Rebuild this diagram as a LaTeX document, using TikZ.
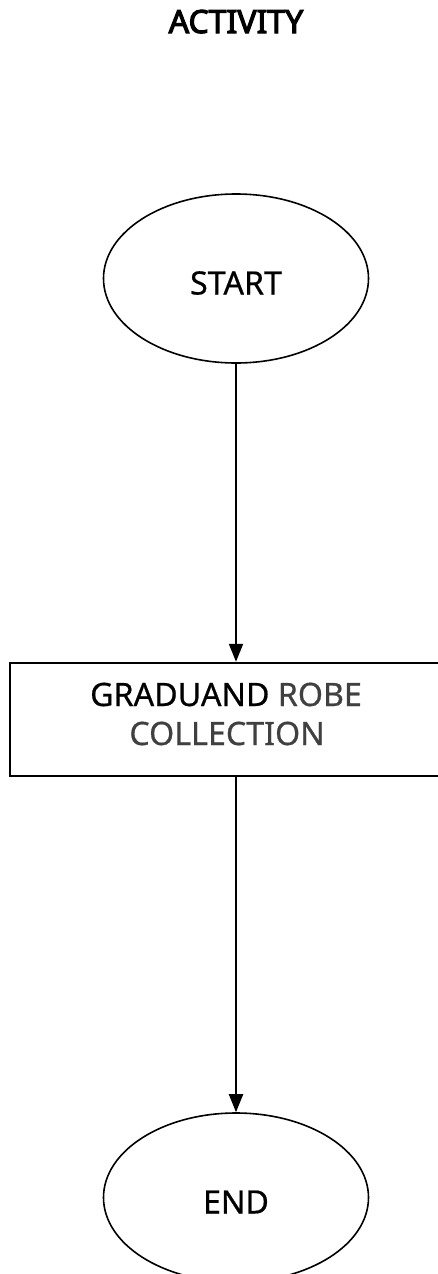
\documentclass[tikz,border=0pt]{standalone}
\usepackage{fontspec}
\setmainfont{Noto Sans}[FakeBold=0.6]
\newfontfamily\titlefont{Noto Sans}[FakeBold=3.5]
\usetikzlibrary{shapes.geometric,arrows.meta}
\definecolor{softgray}{HTML}{404040}
\tikzset{
  terminal/.style={draw=black, line width=1.6pt, ellipse, inner sep=0pt,
    minimum width=265pt, minimum height=169pt, text height=32pt, text depth=0pt,
    font=\fontsize{32.2pt}{39pt}\selectfont},
  procbox/.style={draw=black, line width=2.4pt, rectangle, inner sep=0pt,
    minimum width=432pt, minimum height=113pt},
  boxtext/.style={anchor=base, inner sep=0pt, font=\fontsize{32.2pt}{39pt}\selectfont},
  flow/.style={line width=2pt, -{Triangle[length=18pt,width=14pt]}},
  titletext/.style={anchor=base, inner sep=0pt, font=\titlefont\fontsize{32pt}{38pt}\selectfont}
}
\begin{document}
\begin{tikzpicture}[x=1pt,y=-1pt]
  \useasboundingbox (0,0) rectangle (438,1274);
  \node[titletext] (title) at (236,33) {ACTIVITY};
  \node[terminal] (start) at (236,278.5) {START};
  \node[procbox] (robe) at (226,719.5) {};
  \node[boxtext] (line1) at (226,706) {GRADUAND \textcolor{softgray}{ROBE}};
  \node[boxtext] (line2) at (227,745) {\textcolor{softgray}{COLLECTION}};
  \node[terminal] (end) at (236,1197.5) {END};
  \draw[flow] (start.south) -- (start.south |- robe.north);
  \draw[flow] (start.south |- robe.south) -- (end.north);
\end{tikzpicture}
\end{document}
